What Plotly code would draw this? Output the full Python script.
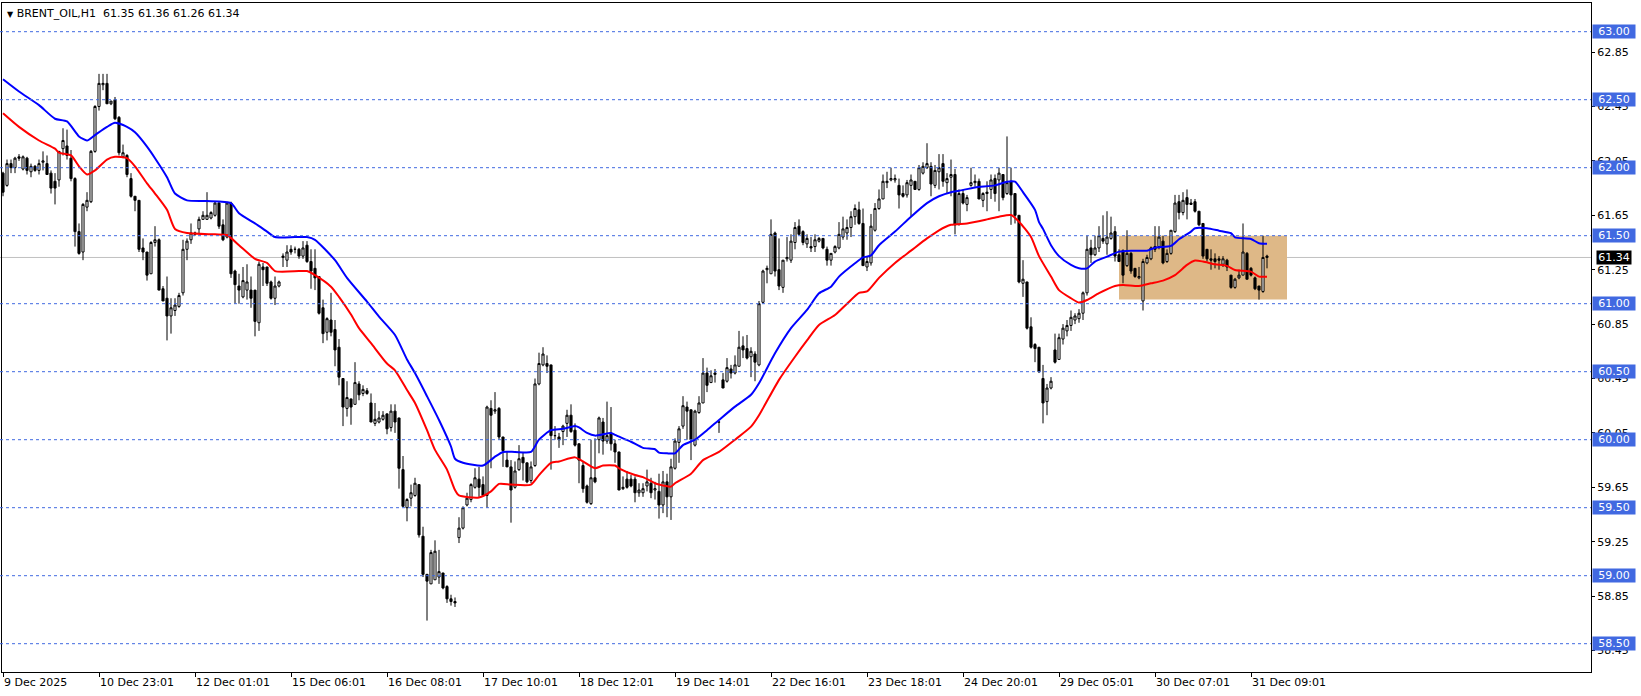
import plotly.graph_objects as go

# ---------------- data (H1 bars, index 0..316) ----------------
open_ = [
    61.96, 61.87, 62.03, 62.00, 62.08, 61.99, 62.07, 61.97, 62.01, 61.98,
    62.04, 62.03, 61.96, 61.90, 61.91, 62.14, 62.16, 62.07, 61.92, 61.53,
    61.38, 61.71, 61.75, 62.12, 62.45, 62.61, 62.62, 62.47, 62.50, 62.37,
    62.08, 62.09, 61.92, 61.79, 61.76, 61.41, 61.38, 61.22, 61.45, 61.47,
    61.11, 61.04, 60.91, 60.95, 60.98, 61.08, 61.40, 61.47, 61.51, 61.55,
    61.62, 61.62, 61.63, 61.65, 61.74, 61.58, 61.49, 61.74, 61.24, 61.13,
    61.05, 61.10, 61.10, 61.10, 60.86, 61.27, 61.27, 61.16, 61.04, 61.13,
    61.34, 61.32, 61.40, 61.40, 61.40, 61.35, 61.43, 61.31, 61.26, 61.20,
    60.97, 60.79, 60.88, 60.81, 60.68, 60.45, 60.23, 60.30, 60.26, 60.41,
    60.34, 60.36, 60.27, 60.12, 60.13, 60.15, 60.19, 60.09, 60.21, 60.16,
    59.78, 59.50, 59.57, 59.59, 59.67, 59.29, 59.01, 58.94, 58.97, 58.99,
    59.02, 58.92, 58.83, 58.81, 59.28, 59.35, 59.52, 59.56, 59.65, 59.71,
    59.67, 59.59, 60.23, 60.21, 60.23, 60.02, 59.85, 59.80, 59.65, 59.78,
    59.87, 59.83, 59.70, 59.81, 60.41, 60.55, 60.56, 60.55, 60.03, 60.02,
    60.06, 60.12, 60.18, 60.07, 59.97, 59.81, 59.66, 59.53, 59.72, 60.00,
    60.13, 59.99, 60.05, 59.97, 59.91, 59.64, 59.71, 59.71, 59.71, 59.61,
    59.61, 59.66, 59.68, 59.63, 59.62, 59.52, 59.69, 59.58, 59.79, 59.98,
    60.10, 60.24, 60.22, 59.96, 60.20, 60.27, 60.49, 60.42, 60.48, 60.13,
    60.44, 60.43, 60.52, 60.49, 60.54, 60.69, 60.67, 60.61, 60.63, 60.55,
    61.01, 61.25, 61.22, 61.52, 61.25, 61.12, 61.33, 61.32, 61.45, 61.57,
    61.53, 61.44, 61.42, 61.42, 61.46, 61.48, 61.40, 61.32, 61.38, 61.41,
    61.49, 61.52, 61.56, 61.64, 61.69, 61.59, 61.27, 61.30, 61.54, 61.70,
    61.77, 61.89, 61.91, 61.91, 61.87, 61.81, 61.80, 61.87, 61.90, 61.84,
    61.96, 62.00, 62.01, 61.87, 61.97, 62.03, 61.89, 61.93, 61.95, 61.58,
    61.81, 61.73, 61.87, 61.89, 61.90, 61.76, 61.81, 61.84, 61.92, 61.91,
    61.95, 61.81, 61.90, 61.81, 61.65, 61.15, 61.16, 60.83, 60.70, 60.68,
    60.45, 60.28, 60.38, 60.66, 60.59, 60.74, 60.80, 60.84, 60.88, 60.89,
    60.93, 61.08, 61.41, 61.36, 61.41, 61.48, 61.44, 61.48, 61.53, 61.36,
    61.39, 61.28, 61.37, 61.26, 61.19, 61.02, 61.30, 61.33, 61.42, 61.42,
    61.46, 61.31, 61.37, 61.53, 61.75, 61.67, 61.78, 61.74, 61.75, 61.68,
    61.59, 61.40, 61.33, 61.33, 61.33, 61.29, 61.32, 61.21, 61.12, 61.19,
    61.21, 61.37, 61.26, 61.19, 61.13, 61.09, 61.35,
]
high = [
    61.97, 62.06, 62.06, 62.08, 62.10, 62.09, 62.08, 62.03, 62.02, 62.06,
    62.12, 62.09, 61.98, 61.96, 62.12, 62.29, 62.28, 62.13, 61.93, 61.59,
    61.74, 61.82, 62.13, 62.46, 62.69, 62.69, 62.69, 62.49, 62.52, 62.38,
    62.17, 62.10, 61.96, 61.79, 61.76, 61.48, 61.38, 61.46, 61.57, 61.48,
    61.13, 61.20, 61.04, 61.04, 61.08, 61.47, 61.48, 61.59, 61.53, 61.64,
    61.68, 61.82, 61.68, 61.75, 61.75, 61.62, 61.75, 61.75, 61.25, 61.22,
    61.27, 61.29, 61.20, 61.10, 61.31, 61.30, 61.27, 61.17, 61.20, 61.17,
    61.37, 61.43, 61.43, 61.42, 61.41, 61.46, 61.46, 61.40, 61.40, 61.20,
    61.03, 60.90, 61.08, 60.88, 60.74, 60.45, 60.43, 60.30, 60.57, 60.43,
    60.40, 60.38, 60.34, 60.27, 60.21, 60.21, 60.19, 60.26, 60.26, 60.16,
    59.88, 59.57, 59.67, 59.72, 59.67, 59.36, 59.01, 59.19, 59.26, 59.19,
    59.02, 58.93, 58.86, 58.84, 59.43, 59.51, 59.61, 59.68, 59.79, 59.80,
    59.73, 60.25, 60.29, 60.35, 60.24, 60.02, 59.91, 59.85, 59.84, 59.96,
    59.91, 59.83, 59.84, 60.45, 60.64, 60.68, 60.62, 60.55, 60.10, 60.05,
    60.11, 60.22, 60.26, 60.12, 59.97, 59.84, 59.67, 60.00, 60.01, 60.17,
    60.16, 60.28, 60.24, 60.00, 59.91, 59.73, 59.77, 59.74, 59.73, 59.68,
    59.68, 59.78, 59.72, 59.69, 59.75, 59.77, 59.75, 59.86, 60.01, 60.10,
    60.32, 60.28, 60.22, 60.22, 60.32, 60.60, 60.53, 60.51, 60.52, 60.13,
    60.49, 60.60, 60.55, 60.62, 60.80, 60.76, 60.77, 60.68, 60.65, 61.02,
    61.25, 61.28, 61.62, 61.53, 61.48, 61.32, 61.49, 61.51, 61.60, 61.62,
    61.54, 61.51, 61.49, 61.51, 61.49, 61.48, 61.42, 61.37, 61.43, 61.60,
    61.64, 61.62, 61.68, 61.73, 61.75, 61.70, 61.35, 61.66, 61.74, 61.84,
    61.95, 61.97, 62.00, 61.95, 61.92, 61.87, 61.91, 61.95, 61.90, 62.02,
    62.04, 62.18, 62.04, 62.02, 62.10, 62.10, 61.96, 62.06, 61.99, 61.84,
    61.84, 61.80, 62.00, 61.95, 61.92, 61.82, 61.90, 61.95, 61.95, 62.00,
    61.95, 62.23, 62.00, 61.81, 61.65, 61.32, 61.16, 60.90, 60.71, 60.68,
    60.55, 60.41, 60.46, 60.78, 60.78, 60.85, 60.88, 60.95, 60.93, 60.96,
    61.09, 61.50, 61.47, 61.50, 61.57, 61.65, 61.68, 61.64, 61.57, 61.40,
    61.40, 61.54, 61.38, 61.26, 61.27, 61.33, 61.36, 61.42, 61.57, 61.57,
    61.50, 61.40, 61.54, 61.80, 61.80, 61.82, 61.84, 61.77, 61.77, 61.68,
    61.59, 61.40, 61.40, 61.37, 61.35, 61.35, 61.33, 61.21, 61.19, 61.25,
    61.59, 61.38, 61.27, 61.20, 61.13, 61.50, 61.36,
]
low = [
    61.79, 61.86, 61.96, 61.96, 62.05, 61.98, 61.95, 61.93, 61.97, 61.95,
    61.98, 61.95, 61.81, 61.73, 61.86, 62.09, 62.06, 61.90, 61.42, 61.36,
    61.32, 61.68, 61.74, 62.11, 62.42, 62.57, 62.47, 62.46, 62.35, 62.09,
    62.07, 61.93, 61.78, 61.68, 61.38, 61.32, 61.17, 61.22, 61.42, 61.10,
    61.02, 60.73, 60.78, 60.91, 60.97, 61.06, 61.32, 61.44, 61.50, 61.52,
    61.62, 61.62, 61.62, 61.64, 61.55, 61.46, 61.48, 61.19, 61.00, 61.00,
    61.04, 61.03, 60.97, 60.76, 60.80, 61.13, 61.13, 61.03, 60.99, 61.12,
    61.27, 61.27, 61.36, 61.37, 61.33, 61.33, 61.30, 61.11, 61.10, 60.92,
    60.71, 60.73, 60.76, 60.54, 60.40, 60.10, 60.17, 60.11, 60.26, 60.29,
    60.32, 60.33, 60.13, 60.10, 60.12, 60.14, 60.04, 60.06, 60.05, 59.64,
    59.51, 59.40, 59.51, 59.58, 59.28, 58.99, 58.67, 58.94, 58.97, 58.94,
    58.90, 58.80, 58.78, 58.77, 59.24, 59.34, 59.51, 59.54, 59.64, 59.58,
    59.58, 59.50, 59.79, 60.19, 60.00, 59.80, 59.80, 59.39, 59.64, 59.77,
    59.70, 59.68, 59.68, 59.80, 60.40, 60.54, 60.49, 59.78, 60.00, 59.94,
    59.96, 60.02, 60.05, 59.95, 59.68, 59.61, 59.53, 59.52, 59.68, 59.90,
    59.89, 59.97, 59.92, 59.83, 59.63, 59.63, 59.64, 59.65, 59.54, 59.58,
    59.58, 59.62, 59.57, 59.56, 59.42, 59.46, 59.43, 59.41, 59.78, 59.83,
    60.08, 60.00, 59.85, 59.95, 60.19, 60.27, 60.35, 60.42, 60.42, 60.05,
    60.38, 60.42, 60.45, 60.48, 60.54, 60.60, 60.59, 60.46, 60.43, 60.54,
    61.00, 61.15, 61.22, 61.20, 61.10, 61.08, 61.31, 61.30, 61.40, 61.51,
    61.43, 61.41, 61.38, 61.38, 61.45, 61.40, 61.28, 61.28, 61.37, 61.40,
    61.47, 61.47, 61.49, 61.58, 61.58, 61.28, 61.24, 61.28, 61.53, 61.69,
    61.77, 61.85, 61.90, 61.89, 61.70, 61.78, 61.78, 61.64, 61.84, 61.83,
    61.95, 61.99, 61.79, 61.85, 61.84, 61.86, 61.81, 61.79, 61.51, 61.58,
    61.73, 61.68, 61.86, 61.86, 61.77, 61.71, 61.68, 61.77, 61.75, 61.68,
    61.76, 61.80, 61.58, 61.59, 61.15, 61.05, 60.81, 60.67, 60.57, 60.49,
    60.12, 60.18, 60.37, 60.56, 60.59, 60.70, 60.76, 60.80, 60.85, 60.86,
    60.88, 61.06, 61.30, 61.35, 61.38, 61.44, 61.36, 61.47, 61.31, 61.31,
    61.15, 61.27, 61.22, 61.19, 61.18, 60.95, 61.29, 61.32, 61.38, 61.40,
    61.29, 61.30, 61.36, 61.52, 61.62, 61.65, 61.62, 61.73, 61.67, 61.57,
    61.33, 61.31, 61.25, 61.26, 61.25, 61.27, 61.24, 61.11, 61.11, 61.18,
    61.21, 61.18, 61.20, 61.10, 61.03, 61.08, 61.26,
]
close = [
    61.82, 62.03, 62.00, 62.07, 62.07, 62.08, 61.98, 62.01, 61.98, 62.03,
    62.05, 61.95, 61.85, 61.85, 62.12, 62.20, 62.09, 61.92, 61.53, 61.37,
    61.73, 61.76, 62.12, 62.45, 62.62, 62.62, 62.47, 62.49, 62.36, 62.11,
    62.11, 61.95, 61.79, 61.76, 61.40, 61.38, 61.21, 61.45, 61.47, 61.10,
    61.02, 60.91, 60.97, 60.99, 61.06, 61.40, 61.46, 61.52, 61.52, 61.62,
    61.65, 61.65, 61.67, 61.74, 61.57, 61.47, 61.74, 61.22, 61.14, 61.10,
    61.17, 61.16, 61.04, 60.87, 61.29, 61.25, 61.15, 61.04, 61.13, 61.16,
    61.35, 61.38, 61.38, 61.40, 61.35, 61.41, 61.31, 61.24, 61.19, 60.93,
    60.78, 60.89, 60.79, 60.66, 60.46, 60.24, 60.31, 60.24, 60.42, 60.33,
    60.37, 60.34, 60.13, 60.15, 60.16, 60.18, 60.08, 60.21, 60.13, 59.79,
    59.51, 59.56, 59.61, 59.68, 59.30, 59.01, 58.96, 59.17, 59.18, 59.03,
    58.91, 58.83, 58.81, 58.80, 59.35, 59.50, 59.57, 59.67, 59.72, 59.65,
    59.59, 60.24, 60.18, 60.22, 60.02, 59.92, 59.80, 59.63, 59.77, 59.86,
    59.83, 59.69, 59.80, 60.41, 60.56, 60.63, 60.54, 60.03, 60.03, 60.00,
    60.10, 60.18, 60.06, 59.96, 59.85, 59.64, 59.54, 59.72, 59.69, 60.16,
    59.99, 60.03, 59.97, 59.91, 59.63, 59.65, 59.65, 59.66, 59.61, 59.63,
    59.64, 59.69, 59.61, 59.64, 59.52, 59.69, 59.58, 59.80, 59.99, 60.08,
    60.25, 60.21, 60.00, 60.21, 60.27, 60.49, 60.40, 60.47, 60.49, 60.13,
    60.38, 60.53, 60.49, 60.55, 60.68, 60.66, 60.60, 60.65, 60.57, 61.00,
    61.24, 61.26, 61.51, 61.24, 61.13, 61.32, 61.34, 61.46, 61.56, 61.51,
    61.45, 61.48, 61.41, 61.47, 61.48, 61.41, 61.32, 61.37, 61.42, 61.51,
    61.55, 61.56, 61.64, 61.70, 61.59, 61.28, 61.31, 61.57, 61.70, 61.77,
    61.90, 61.90, 61.92, 61.92, 61.80, 61.79, 61.89, 61.91, 61.84, 62.00,
    62.01, 62.03, 61.88, 61.98, 62.00, 61.90, 61.92, 61.95, 61.58, 61.81,
    61.74, 61.78, 61.89, 61.90, 61.77, 61.81, 61.82, 61.91, 61.81, 61.96,
    61.78, 61.89, 61.80, 61.65, 61.16, 61.18, 60.82, 60.68, 60.67, 60.50,
    60.27, 60.38, 60.43, 60.57, 60.75, 60.82, 60.84, 60.90, 60.91, 60.93,
    61.08, 61.40, 61.36, 61.41, 61.50, 61.46, 61.49, 61.52, 61.35, 61.31,
    61.21, 61.37, 61.24, 61.20, 61.20, 61.31, 61.34, 61.41, 61.40, 61.49,
    61.30, 61.37, 61.54, 61.74, 61.67, 61.76, 61.73, 61.73, 61.68, 61.58,
    61.35, 61.33, 61.32, 61.31, 61.32, 61.33, 61.27, 61.12, 61.18, 61.21,
    61.38, 61.18, 61.21, 61.11, 61.10, 61.34, 61.34,
]
bars = list(range(len(close)))

# moving-average lines (bar index, price)
blue_ma_x = [0, 4, 9, 13, 16, 19, 21, 23, 26, 28, 31, 33, 36, 38, 41, 43, 46, 51, 57, 59,
             63, 66, 68, 73, 76, 78, 83, 86, 91, 94, 98, 101, 103, 106, 109, 112, 113, 115,
             120, 123, 125, 128, 132, 134, 137, 140, 143, 144, 146, 148, 152, 153, 157, 160,
             163, 164, 166, 168, 170, 173, 176, 179, 183, 187, 189, 193, 197, 201, 204, 207,
             209, 213, 215, 217, 219, 223, 227, 231, 234, 237, 239, 243, 248, 251, 253, 255,
             258, 259, 260, 262, 264, 267, 269, 271, 273, 276, 279, 282, 286, 288, 292, 294,
             297, 298, 301, 304, 307, 308, 312, 314, 316]
blue_ma_y = [62.65, 62.56, 62.46, 62.36, 62.34, 62.23, 62.20, 62.24, 62.30, 62.33, 62.30, 62.26,
             62.155, 62.07, 61.93, 61.81, 61.76, 61.755, 61.74, 61.665, 61.59, 61.53, 61.49,
             61.49, 61.49, 61.47, 61.32, 61.19, 61.015, 60.905, 60.77, 60.59, 60.49, 60.32,
             60.145, 59.95, 59.86, 59.83, 59.81, 59.875, 59.91, 59.91, 59.91, 60.00, 60.07,
             60.08, 60.10, 60.09, 60.05, 60.03, 60.05, 60.035, 59.985, 59.94, 59.93, 59.905,
             59.90, 59.90, 59.96, 60.00, 60.07, 60.145, 60.243, 60.33, 60.415, 60.635, 60.82,
             60.954, 61.076, 61.125, 61.199, 61.297, 61.34, 61.355, 61.43, 61.53, 61.64, 61.74,
             61.79, 61.82, 61.83, 61.855, 61.87, 61.897, 61.897, 61.82, 61.69, 61.60, 61.55,
             61.43, 61.35, 61.285, 61.26, 61.26, 61.31, 61.346, 61.383, 61.39, 61.39, 61.412,
             61.425, 61.474, 61.53, 61.555, 61.555, 61.537, 61.518, 61.488, 61.476, 61.444,
             61.44]
red_ma_x = [0, 4, 9, 13, 14, 17, 19, 21, 23, 26, 28, 31, 33, 36, 38, 41, 43, 46, 53, 56,
            59, 63, 66, 68, 74, 76, 78, 82, 84, 87, 89, 92, 96, 98, 101, 103, 106, 108, 111,
            113, 114, 119, 122, 124, 127, 132, 134, 137, 139, 143, 145, 148, 150, 153, 154,
            158, 160, 163, 164, 167, 168, 172, 175, 179, 183, 187, 189, 194, 198, 201, 204,
            208, 211, 214, 216, 219, 223, 227, 231, 234, 237, 241, 246, 249, 252, 254, 257,
            259, 262, 264, 267, 269, 271, 274, 278, 280, 284, 287, 290, 293, 296, 298, 300,
            303, 306, 308, 312, 314, 316]
red_ma_y = [62.40, 62.30, 62.20, 62.14, 62.11, 62.09, 62.01, 61.95, 61.98, 62.06, 62.08, 62.07,
            62.01, 61.885, 61.81, 61.69, 61.55, 61.52, 61.51, 61.505, 61.43, 61.33, 61.30,
            61.24, 61.24, 61.24, 61.21, 61.125, 61.05, 60.92, 60.82, 60.71, 60.56, 60.51,
            60.365, 60.27, 60.07, 59.925, 59.78, 59.63, 59.59, 59.575, 59.62, 59.675, 59.67,
            59.67, 59.74, 59.83, 59.84, 59.87, 59.84, 59.79, 59.81, 59.81, 59.79, 59.74,
            59.725, 59.68, 59.67, 59.655, 59.68, 59.75, 59.85, 59.91, 60.00, 60.096, 60.18,
            60.44, 60.61, 60.73, 60.843, 60.917, 61.00, 61.08, 61.09, 61.19, 61.30, 61.39,
            61.48, 61.54, 61.58, 61.59, 61.62, 61.64, 61.652, 61.603, 61.49, 61.35, 61.20,
            61.10, 61.04, 61.008, 61.027, 61.077, 61.13, 61.138, 61.13, 61.15, 61.17, 61.21,
            61.285, 61.317, 61.31, 61.29, 61.278, 61.248, 61.236, 61.199, 61.199]

# axis text
x_tick_bars = [0, 24, 48, 72, 96, 120, 144, 168, 192, 216, 240, 264, 288, 312]
x_tick_text = ["9 Dec 2025", "10 Dec 23:01", "12 Dec 01:01", "15 Dec 06:01", "16 Dec 08:01",
               "17 Dec 10:01", "18 Dec 12:01", "19 Dec 14:01", "22 Dec 16:01", "23 Dec 18:01",
               "24 Dec 20:01", "29 Dec 05:01", "30 Dec 07:01", "31 Dec 09:01"]
y_tick_vals = [62.85, 62.45, 62.05, 61.65, 61.25, 60.85, 60.45, 60.05, 59.65, 59.25, 58.85, 58.45]
level_lines = [63.00, 62.50, 62.00, 61.50, 61.00, 60.50, 60.00, 59.50, 59.00, 58.50]
last_price = 61.34
title_text = "BRENT_OIL,H1\u00a0\u00a061.35 61.36 61.26 61.34"

# zone rectangle (bar index / price)
zone_x = [279, 321]
zone_y = [61.03, 61.50]

# ---------------- figure ----------------
W, H = 1641, 696
ML, MR, MT, MB = 2, 50, 3, 24
PX_PER_BAR = 4.0
PX_PER_UNIT = 136.0
plot_w = W - ML - MR
plot_h = H - MT - MB
x_lo = -0.25
x_hi = x_lo + plot_w / PX_PER_BAR
y_hi = 63.0 + (31.7 - MT) / PX_PER_UNIT
y_lo = y_hi - plot_h / PX_PER_UNIT

FONT = "DejaVu Sans"
LEVEL_BLUE = "#4169E1"

fig = go.Figure()

fig.add_trace(go.Candlestick(
    x=bars, open=open_, high=high, low=low, close=close,
    increasing=dict(fillcolor="white", line=dict(color="black", width=1)),
    decreasing=dict(fillcolor="black", line=dict(color="black", width=1)),
    whiskerwidth=0, hoverinfo="skip", showlegend=False,
))
fig.add_trace(go.Scatter(x=blue_ma_x, y=blue_ma_y, mode="lines",
                         line=dict(color="#0000FF", width=2, shape="spline", smoothing=0.6),
                         hoverinfo="skip", showlegend=False))
fig.add_trace(go.Scatter(x=red_ma_x, y=red_ma_y, mode="lines",
                         line=dict(color="#FF0000", width=2, shape="spline", smoothing=0.6),
                         hoverinfo="skip", showlegend=False))

shapes = []
shapes.append(dict(type="rect", xref="x", yref="y", x0=zone_x[0], x1=zone_x[1],
                   y0=zone_y[0], y1=zone_y[1], fillcolor="#DEB887",
                   line=dict(width=0), layer="below"))
shapes.append(dict(type="line", xref="paper", yref="y", x0=-ML / plot_w, x1=1,
                   y0=last_price, y1=last_price, line=dict(color="#C0C0C0", width=1),
                   layer="below"))
for lv in level_lines:
    shapes.append(dict(type="line", xref="paper", yref="y", x0=-ML / plot_w, x1=1,
                       y0=lv, y1=lv, line=dict(color=LEVEL_BLUE, width=1, dash="3px,3px")))

annotations = []
for lv in level_lines:
    annotations.append(dict(xref="paper", yref="y", x=1, y=lv, xanchor="left", yanchor="middle",
                            xshift=1, text=f"{lv:.2f}", showarrow=False, bgcolor=LEVEL_BLUE,
                            width=42, height=13, borderpad=0, align="center",
                            font=dict(family=FONT, size=11, color="white")))
annotations.append(dict(xref="paper", yref="y", x=1, y=last_price, xanchor="left",
                        yanchor="middle", xshift=5, text=f"{last_price:.2f}", showarrow=False,
                        bgcolor="black", width=34, height=13, borderpad=0, align="center",
                        font=dict(family=FONT, size=11, color="white")))
annotations.append(dict(xref="paper", yref="paper", x=0, y=1, xanchor="left", yanchor="top",
                        xshift=3, yshift=-2,
                        text="<span style='font-size:8px'>\u25bc</span>\u00a0" + title_text,
                        showarrow=False, font=dict(family=FONT, size=11, color="black")))

fig.update_layout(
    width=W, height=H,
    margin=dict(l=ML, r=MR, t=MT, b=MB, pad=0),
    paper_bgcolor="white", plot_bgcolor="white",
    boxgap=0.25,
    showlegend=False,
    shapes=shapes, annotations=annotations,
    hovermode=False,
    xaxis=dict(range=[x_lo, x_hi], rangeslider=dict(visible=False), showgrid=False,
               zeroline=False, showline=True, linecolor="black", linewidth=1, mirror=True,
               ticks="outside", ticklen=4, tickcolor="black",
               tickvals=x_tick_bars, ticktext=x_tick_text, ticklabelposition="outside right",
               tickfont=dict(family=FONT, size=11, color="black")),
    yaxis=dict(range=[y_lo, y_hi], side="right", showgrid=False, zeroline=False,
               showline=True, linecolor="black", linewidth=1, mirror=True,
               ticks="outside", ticklen=3, tickcolor="black",
               tickvals=y_tick_vals, ticktext=[f"{v:.2f}" for v in y_tick_vals],
               tickfont=dict(family=FONT, size=11, color="black")),
)

fig.write_html(
    "out.html",
    config={"displayModeBar": False},
    post_script="document.body.style.margin='0px';document.body.style.overflow='hidden';",
)
